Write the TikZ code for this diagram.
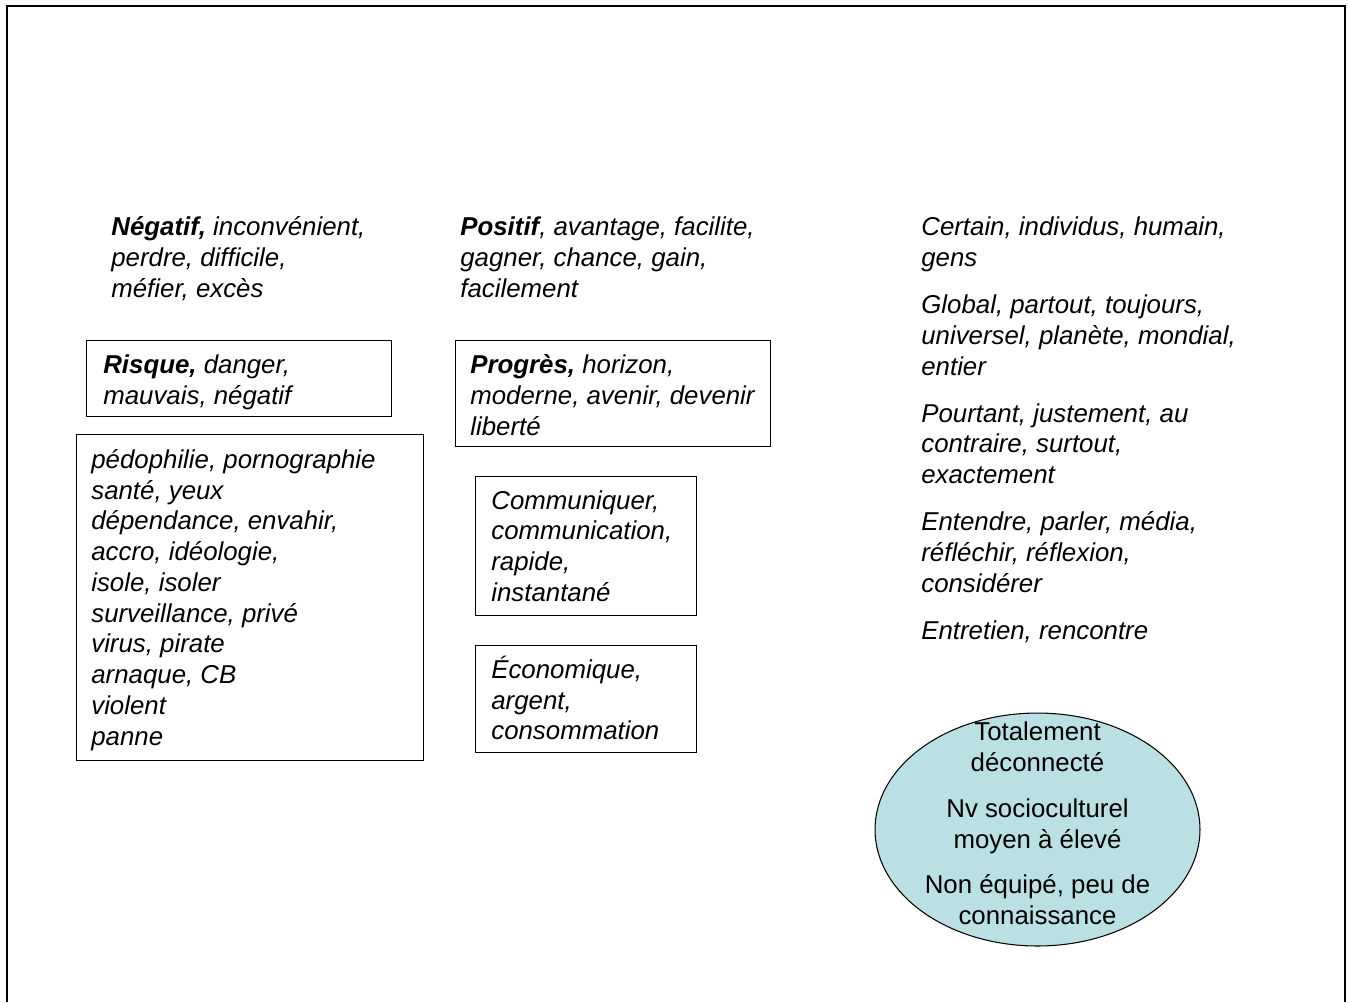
\documentclass[tikz,border=0pt]{standalone}
\usepackage{fontspec}
\setmainfont{Liberation Sans}
\usepackage{tikz}
\usetikzlibrary{positioning,shapes.geometric}
\definecolor{ovalteal}{HTML}{BBE0E3}
\newcommand{\wordsize}{\fontsize{14.7}{17.5}\selectfont}

\begin{document}
\begin{tikzpicture}[x=0.02cm,y=-0.02cm,font=\wordsize,
  frame/.style={draw,line width=0.6pt,inner sep=0pt,anchor=north west},
  words/.style={align=left,inner sep=0pt,font=\wordsize\itshape},
  oval/.style={ellipse,draw,line width=0.6pt,fill=ovalteal,inner sep=0pt,
    minimum width=6.5cm,minimum height=4.66cm}]
\path[use as bounding box] (0,0) rectangle (1348,1002);
\fill[white] (0,0) rectangle (1348,1002);
% cadre ouvert en bas
\draw[line width=1.2pt] (7,1002) -- (7,6) -- (1345,6) -- (1345,1002);
% blocs libres, ancrés sur la dernière ligne
\node[words,anchor=base west] (negatif) at (111,297) {\textbf{Négatif,} inconvénient,\\perdre, difficile,\\méfier, excès};
\node[words,anchor=base west] (positif) at (460,297) {\textbf{Positif}, avantage, facilite,\\gagner, chance, gain,\\facilement};
\node[frame,minimum width=6.1cm,minimum height=1.52cm] (risque) at (86,340) {};
\node[words,right=0.34cm of risque.west,yshift=-0.08cm] (risquetxt) {\textbf{Risque,} danger,\\mauvais, négatif};
\node[frame,minimum width=6.94cm,minimum height=6.52cm] (dangers) at (76,434) {};
\node[words,right=0.3cm of dangers.west,yshift=-0.05cm] (dangerstxt) {pédophilie, pornographie\\santé, yeux\\dépendance, envahir,\\accro, idéologie,\\isole, isoler\\surveillance, privé\\virus, pirate\\arnaque, CB\\violent\\panne};
\node[frame,minimum width=6.3cm,minimum height=2.12cm] (progres) at (455,340) {};
\node[words,right=0.3cm of progres.west,yshift=-0.03cm] (progrestxt) {\textbf{Progrès,} horizon,\\moderne, avenir, devenir\\liberté};
\node[frame,minimum width=4.42cm,minimum height=2.78cm] (communic) at (475,476) {};
\node[words,right=0.32cm of communic.west] (communictxt) {Communiquer,\\communication,\\rapide,\\instantané};
\node[frame,minimum width=4.42cm,minimum height=2.14cm] (econ) at (475,645) {};
\node[words,right=0.32cm of econ.west,yshift=0.02cm] (econtxt) {Économique,\\argent,\\consommation};
\node[words,anchor=base west] (termes) at (921,639) {Certain, individus, humain,\\gens\\[0.325cm]Global, partout, toujours,\\universel, planète, mondial,\\entier\\[0.325cm]Pourtant, justement, au\\contraire, surtout,\\exactement\\[0.325cm]Entendre, parler, média,\\réfléchir, réflexion,\\considérer\\[0.325cm]Entretien, rencontre};
\node[oval] (profil) at (1037.5,829.5) {};
\node[align=center,inner sep=0pt] (profiltxt) at ([yshift=0.12cm]profil.center) {Totalement\\déconnecté\\[0.3cm]Nv socioculturel\\moyen à élevé\\[0.3cm]Non équipé, peu de\\connaissance};
\end{tikzpicture}
\end{document}
